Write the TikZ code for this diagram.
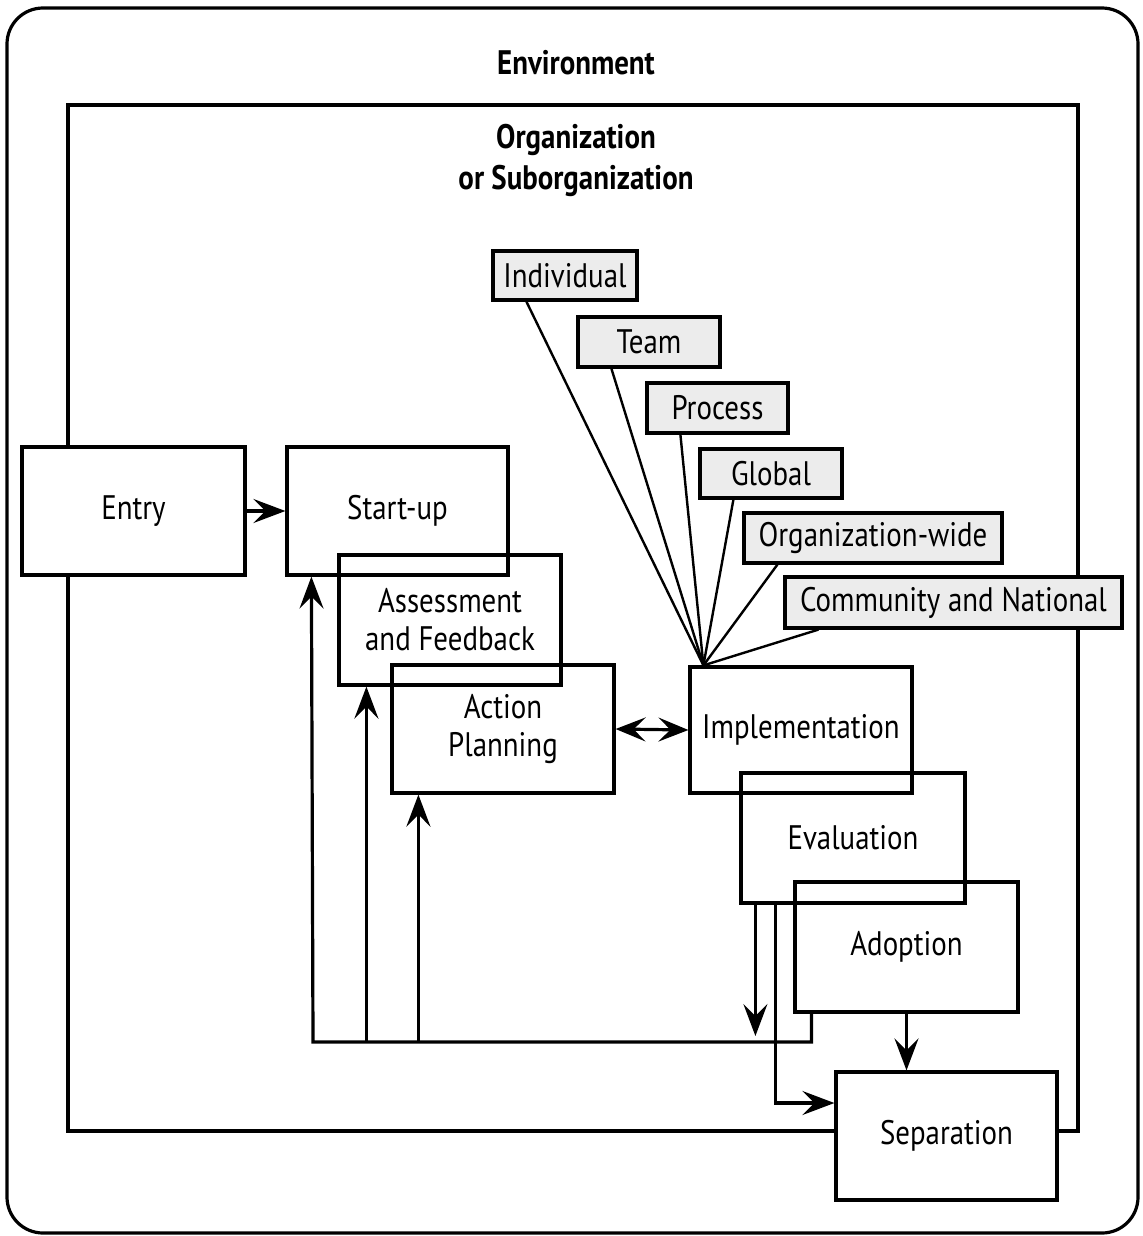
\documentclass[tikz,border=0pt]{standalone}
\usepackage{fontspec}
\setmainfont{PT Sans}[FakeStretch=0.85]
\usetikzlibrary{arrows.meta,calc}
\begin{document}
\begin{tikzpicture}[x=0.5pt,y=-0.5pt,
  txt/.style={font=\fontsize{17}{19}\selectfont},
  blk/.style={draw, line width=1.6pt, align=center, inner sep=0pt, txt},
  lbl/.style={draw, line width=1.6pt, fill=gray!15, inner sep=0pt, txt},
  arr/.style={line width=1.6pt, -{Stealth[length=16pt,width=12pt,inset=6pt]}},
  dbl/.style={line width=1.6pt, {Stealth[length=15pt,width=12pt,inset=6pt]}-{Stealth[length=15pt,width=12pt,inset=6pt]}},
  ln/.style={line width=1.2pt}]
\useasboundingbox (0,0) rectangle (1143,1236);
% environment and organization frames
\draw[line width=1.6pt, rounded corners=18pt] (7,8) rectangle (1138,1233);
\draw[line width=1.7pt] (68,105) rectangle (1078,1131);
\node[txt, font=\bfseries\fontsize{17}{19}\selectfont] (env) at (576,63) {Environment};
\node[txt, align=center, font=\bfseries\fontsize{17}{20.5}\selectfont] (org) at (576,160) {Organization\\or Suborganization};
% process boxes
\node[blk, fill=white, minimum width=111.5pt, minimum height=64pt] (entry) at (133.5,511) {Entry};
\node[blk, minimum width=110.5pt, minimum height=64pt] (startup) at (397.5,511) {Start-up};
\node[blk, minimum width=111pt, minimum height=65pt] (assess) at (450,620) {Assessment\\and Feedback};
\node[blk, minimum width=111pt, minimum height=64pt] (ap) at (503,729) {Action\\Planning};
\node[blk, minimum width=111pt, minimum height=63pt] (impl) at (801,730) {Implementation};
\node[blk, minimum width=112pt, minimum height=65pt] (eval) at (853,838) {Evaluation};
\node[blk, minimum width=111.5pt, minimum height=65pt] (adopt) at (906.5,947) {Adoption};
\node[blk, fill=white, minimum width=110.5pt, minimum height=64pt] (sep) at (946.5,1136) {Separation};
% level labels
\node[lbl, minimum width=72pt, minimum height=24.5pt] (ind) at (565,275.5) {Individual};
\node[lbl, minimum width=71pt, minimum height=25pt] (team) at (649,342) {Team};
\node[lbl, minimum width=70.5pt, minimum height=25pt] (proc) at (717.5,408) {Process};
\node[lbl, minimum width=71pt, minimum height=24.5pt] (glob) at (771,473.5) {Global};
\node[lbl, minimum width=129pt, minimum height=25pt] (orgw) at (873,538) {Organization-wide};
\node[lbl, minimum width=168.5pt, minimum height=25.5pt] (comm) at (953.5,602.5) {Community and National};
\coordinate (hub) at ([xshift=7.5pt]impl.north west);
\foreach \n in {ind,team,proc,glob,orgw,comm}
  \draw[ln] ([xshift=17.5pt]\n.south west) -- (hub);
% connectors
\draw[arr] (entry.east) -- (startup.west);
\draw[dbl] (ap.east) -- (impl.west);
\coordinate (fbl) at (313,1042);
\coordinate (s1) at ([xshift=13pt]startup.south west);
\coordinate (a1) at ([xshift=14.5pt]assess.south west);
\coordinate (p1) at ([xshift=14pt]ap.south west);
\coordinate (d1) at ([xshift=9pt]adopt.south west);
\coordinate (e1) at ([xshift=8pt]eval.south west);
\coordinate (e2) at ([xshift=18pt]eval.south west);
\draw[arr] (d1) |- (fbl) -- (s1);
\draw[arr] (a1 |- fbl) -- (a1);
\draw[arr] (p1 |- fbl) -- (p1);
\draw[arr, shorten >=3pt] (e1) -- (e1 |- fbl);
\draw[arr] (e2) |- ([yshift=16.5pt]sep.west);
\draw[arr] (adopt.south) -- (adopt.south |- sep.north);
\end{tikzpicture}
\end{document}
